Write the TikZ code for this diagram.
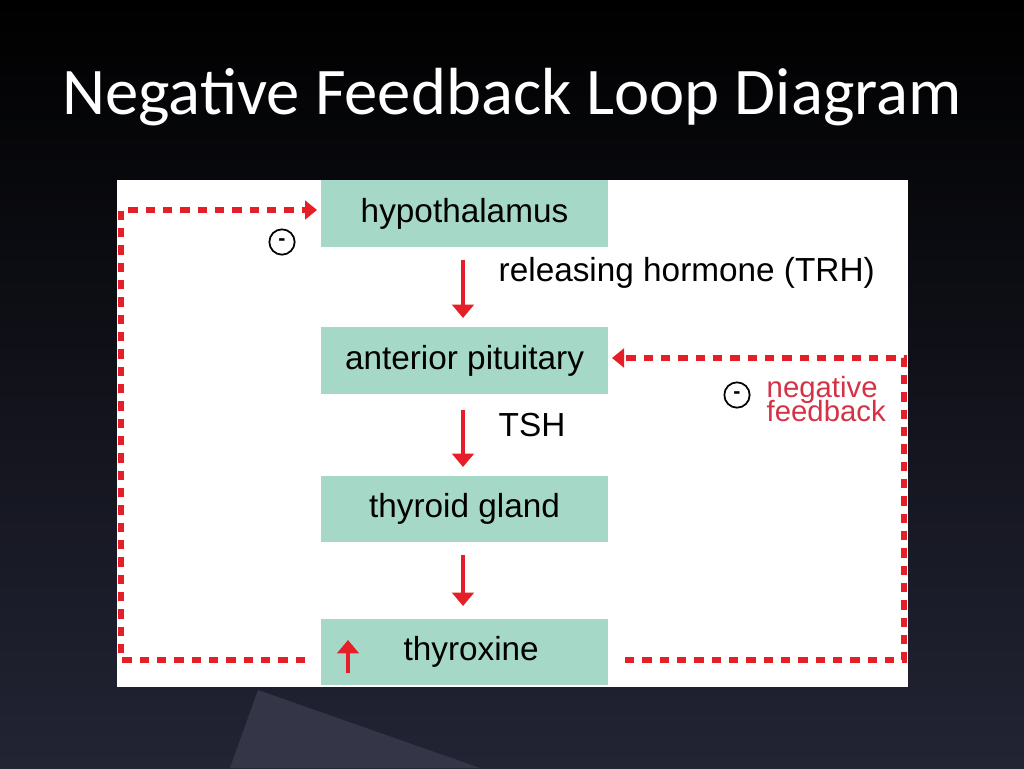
\documentclass[tikz,border=0pt]{standalone}
\usepackage{fontspec}
\setmainfont{Liberation Sans}
\newfontfamily\titlefont{Carlito}
\usetikzlibrary{arrows.meta}
\definecolor{boxgreen}{RGB}{166,216,200}
\definecolor{fbred}{RGB}{230,30,40}
\definecolor{fbtext}{RGB}{214,50,70}
\definecolor{slidebot}{RGB}{34,36,52}
\definecolor{slideshape}{RGB}{52,54,72}
\begin{document}
\begin{tikzpicture}[x=0.75pt,y=0.75pt,yscale=-1,xscale=1,
  stage/.style={fill=boxgreen,minimum width=215pt,minimum height=50pt,inner sep=0pt,font=\fontsize{25}{28}\selectfont},
  flow/.style={fbred,line width=3.5pt,-{Triangle[length=10pt,width=16pt]}},
  fback/.style={fbred,line width=4pt,dash pattern={on 7pt off 6pt}},
  fbtip/.style={fback,-{Triangle[length=9pt,width=14pt]}},
  minus/.style={circle,draw,line width=1.3pt,minimum size=19pt,inner sep=0pt,font=\bfseries\fontsize{16}{16}\selectfont}]
  \useasboundingbox (0,0) rectangle (1024,768);
  % slide background
  \shade[top color=black,bottom color=slidebot] (0,0) rectangle (1024,768);
  \fill[slideshape] (230,768) -- (258,690) -- (480,768) -- cycle;
  \node[white,font=\titlefont\fontsize{50}{56}\selectfont] (title) at (512,97) {Negative Feedback Loop Diagram};
  % white panel
  \fill[white] (117,180) rectangle (908,687);
  % stages
  \node[stage] (hyp) at (464.5,213.5) {hypothalamus};
  \node[stage] (ant) at (464.5,360.5) {anterior pituitary};
  \node[stage] (thy) at (464.5,509) {thyroid gland};
  \node[stage] (tx) at (464.5,652) {\hspace*{10pt}thyroxine};
  % stage arrows
  \draw[flow] (463,260) -- (463,318);
  \draw[flow] (463,410) -- (463,467);
  \draw[flow] (463,555) -- (463,606);
  \draw[flow,line width=3pt] (348,673) -- (348,640);
  \node[anchor=west,font=\fontsize{25}{28}\selectfont] (trh) at (494,273) {releasing hormone (TRH)};
  \node[anchor=west,font=\fontsize{25}{28}\selectfont] (tsh) at (494,425) {TSH};
  % feedback loops
  \coordinate (lb) at (305,660);
  \coordinate (rb) at (625,660);
  \draw[fbtip] (lb) -- (121,660) -- (121,210) -- (317,210);
  \draw[fbtip] (rb) -- (904,660) -- (904,358) -- (612,358);
  \node[minus] (m1) at (282,242) {-};
  \node[minus] (m2) at (737,395) {-};
  \node[anchor=west,fbtext,align=left,font=\fontsize{22}{22}\selectfont] (neg) at (762,399) {negative\\[-4pt]feedback};
\end{tikzpicture}
\end{document}
